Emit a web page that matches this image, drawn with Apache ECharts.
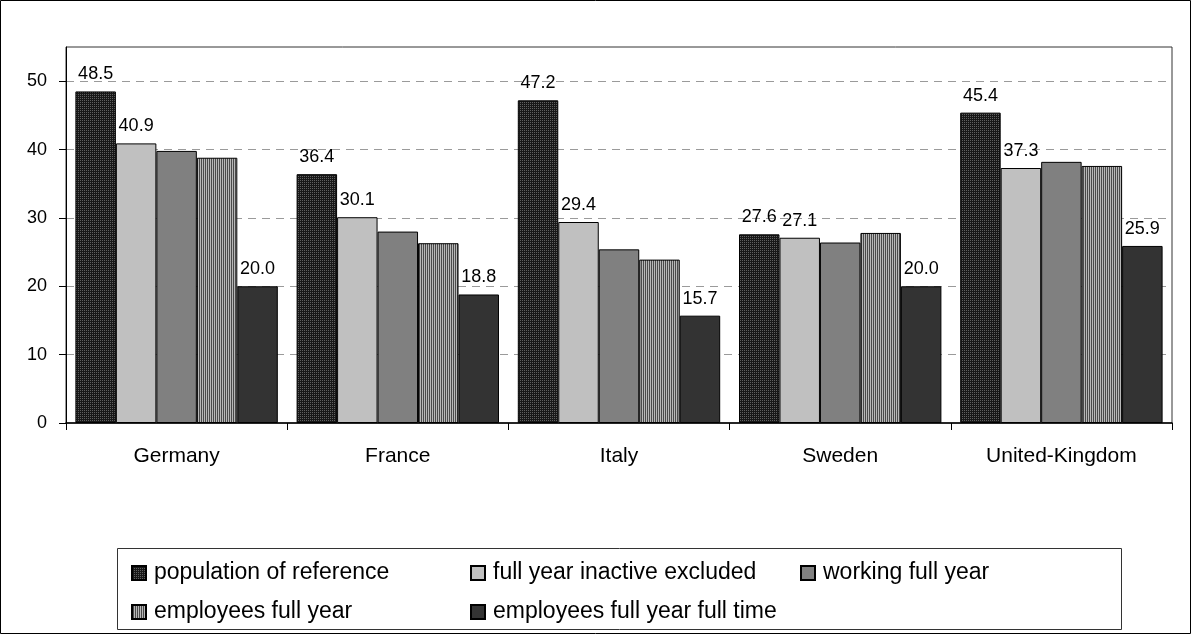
<!DOCTYPE html>
<html>
<head>
<meta charset="utf-8">
<script src="https://cdn.jsdelivr.net/npm/echarts@6/dist/echarts.min.js"></script>
<style>
  html, body {margin: 0; padding: 0; background: #fff;}
  #chart {width: 1191px; height: 634px;}
</style>
</head>
<body>
<div id="chart"></div>
<script>
const countries = ['Germany', 'France', 'Italy', 'Sweden', 'United-Kingdom']
const seriesNames = [
  'population of reference',
  'full year inactive excluded',
  'working full year',
  'employees full year',
  'employees full year full time'
]
const population = [48.5, 36.4, 47.2, 27.6, 45.4]
const inactiveExcluded = [40.9, 30.1, 29.4, 27.1, 37.3]
const workingFullYear = [39.8, 28.0, 25.4, 26.4, 38.2]
const employeesFullYear = [38.8, 26.3, 23.9, 27.8, 37.6]
const employeesFullTime = [20.0, 18.8, 15.7, 20.0, 25.9]
const yTicks = [0, 10, 20, 30, 40, 50]

const font = "'Liberation Sans', Arial, sans-serif"

// small canvas tiles for the excel-like fill patterns
const tile = (w, h, draw) => {
  const c = document.createElement('canvas')
  c.width = w
  c.height = h
  draw(c.getContext('2d'))
  return {image: c, repeat: 'repeat'}
}
const dotted = tile(2, 2, ctx => {
  ctx.fillStyle = '#181818'
  ctx.fillRect(0, 0, 2, 2)
  ctx.fillStyle = '#606060'
  ctx.fillRect(0, 0, 1, 1)
})
const stripes = tile(2, 1, ctx => {
  ctx.fillStyle = '#b8b8b8'
  ctx.fillRect(0, 0, 1, 1)
  ctx.fillStyle = '#4a4a4a'
  ctx.fillRect(1, 0, 1, 1)
})

const fills = [dotted, '#c0c0c0', '#808080', stripes, '#333333']
const values = [population, inactiveExcluded, workingFullYear, employeesFullYear, employeesFullTime]
const labelled = [true, true, false, false, true]

const chart = echarts.init(document.getElementById('chart'))

const legendText = {color: '#000', fontFamily: font, fontSize: 23, lineHeight: 24, padding: [0, 0, 0, 3]}
const legendBase = {
  orient: 'vertical',
  top: 556,
  itemWidth: 14,
  itemHeight: 14,
  itemGap: 15,
  icon: 'rect',
  selectedMode: false,
  textStyle: legendText
}

chart.setOption({
  animation: false,
  backgroundColor: '#fff',
  grid: {
    left: 66,
    right: 19,
    top: 47,
    bottom: 211,
    show: true,
    borderColor: '#333',
    borderWidth: 1
  },
  legend: [
    {...legendBase, left: 126, data: [seriesNames[0], seriesNames[3]]},
    {...legendBase, left: 465, data: [seriesNames[1], seriesNames[4]]},
    {...legendBase, left: 795, data: [seriesNames[2]]}
  ],
  graphic: [
    {type: 'rect', shape: {x: 0.5, y: 0.5, width: 1190, height: 633}, style: {fill: 'none', stroke: '#000', lineWidth: 1}, z: 100},
    {type: 'rect', shape: {x: 117.5, y: 548.5, width: 1004, height: 81}, style: {fill: 'none', stroke: '#333', lineWidth: 1}, z: 100}
  ],
  xAxis: {
    type: 'category',
    data: countries,
    axisLine: {lineStyle: {color: '#000', width: 1.5}},
    axisTick: {show: true, length: 7, lineStyle: {color: '#000'}},
    axisLabel: {color: '#000', fontFamily: font, fontSize: 21, margin: 23}
  },
  yAxis: {
    type: 'value',
    min: 0,
    max: 55,
    interval: 10,
    axisLine: {show: true, lineStyle: {color: '#000'}},
    axisTick: {show: true, length: 7, customValues: yTicks, lineStyle: {color: '#000'}},
    axisLabel: {color: '#000', fontFamily: font, fontSize: 18, margin: 19, customValues: yTicks},
    splitLine: {show: true, lineStyle: {color: '#9a9a9a', type: [8, 6], width: 1}}
  },
  series: seriesNames.map((name, i) => ({
    name,
    type: 'bar',
    data: values[i],
    barGap: '0%',
    barCategoryGap: '8.5%',
    itemStyle: {color: fills[i], borderColor: '#000', borderWidth: 1},
    label: {
      show: labelled[i],
      position: 'top',
      distance: 8,
      color: '#000',
      fontFamily: font,
      fontSize: 18,
      formatter: p => p.value.toFixed(1)
    }
  }))
})
</script>
</body>
</html>
